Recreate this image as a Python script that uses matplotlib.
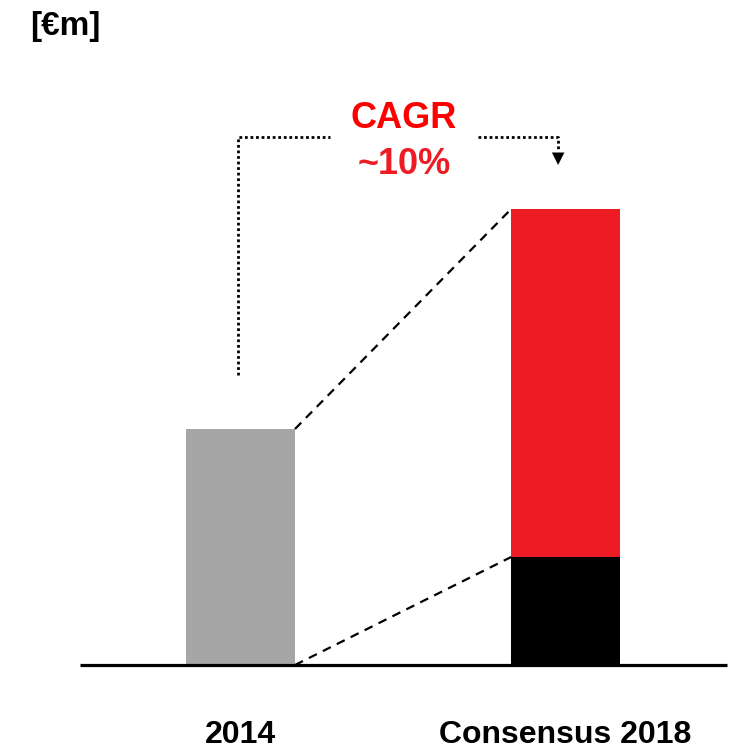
import matplotlib
matplotlib.use("Agg")
import matplotlib.pyplot as plt

plt.rcParams['font.family'] = ['Liberation Sans', 'DejaVu Sans']

categories = ["2014", "Consensus 2018"]
base_values = [236, 108]      # gray (2014) and black base (2018)
growth_values = [0, 348]      # red increment on 2018
unit_label = "[€m]"

bar_colors = ["#A6A6A6", "#000000"]
red = "#ED1C24"

fig = plt.figure(figsize=(7.34, 7.5), dpi=100)
ax = fig.add_axes([0, 0, 1, 1])
ax.set_xlim(-0.74, 1.518)
ax.set_ylim(-85, 665)
ax.axis("off")

x = [0, 1]
w = 0.335
ax.bar(x, base_values, width=w, color=bar_colors, zorder=2)
ax.bar(x[1], growth_values[1], bottom=base_values[1], width=w, color=red, zorder=2)

# baseline
ax.plot([-0.494, 1.497], [0, 0], color="black", lw=2.3, zorder=3, solid_capstyle="butt")

# dashed connectors
total_2018 = base_values[1] + growth_values[1]
ax.plot([x[0] + w / 2, x[1] - w / 2], [base_values[0], total_2018],
        color="black", lw=1.6, ls=(0, (4, 3)), zorder=1)
ax.plot([x[0] + w / 2, x[1] - w / 2], [0, base_values[1]],
        color="black", lw=1.6, ls=(0, (4, 3)), zorder=1)

# dotted CAGR bracket
top = total_2018 + 72
dot = dict(color="black", lw=2.0, ls=(0, (1, 1)), zorder=1)
ax.plot([x[0] - 0.008, x[0] - 0.008, 0.275], [base_values[0] + 54, top, top], **dot)
ax.plot([0.731, 0.977, 0.977], [top, top, total_2018 + 60], **dot)
ax.annotate("", xy=(0.977, total_2018 + 44), xytext=(0.977, total_2018 + 57),
            arrowprops=dict(arrowstyle="-|>,head_length=0.9,head_width=0.45",
                            color="black", lw=0, shrinkA=0, shrinkB=0))

ax.text(0.503, top + 18, "CAGR", color="#FF0000", fontsize=26, fontweight="bold",
        ha="center", va="center")
ax.text(0.503, top - 27, "~10%", color=red, fontsize=26, fontweight="bold",
        ha="center", va="center")

for xi, lab in zip(x, categories):
    ax.text(xi, -70, lab, fontsize=23, fontweight="bold", ha="center", va="center")

fig.text(30 / 734, 1 - 26 / 750, unit_label, fontsize=24, fontweight="bold",
         ha="left", va="center")

fig.savefig("out.png", dpi=100)
